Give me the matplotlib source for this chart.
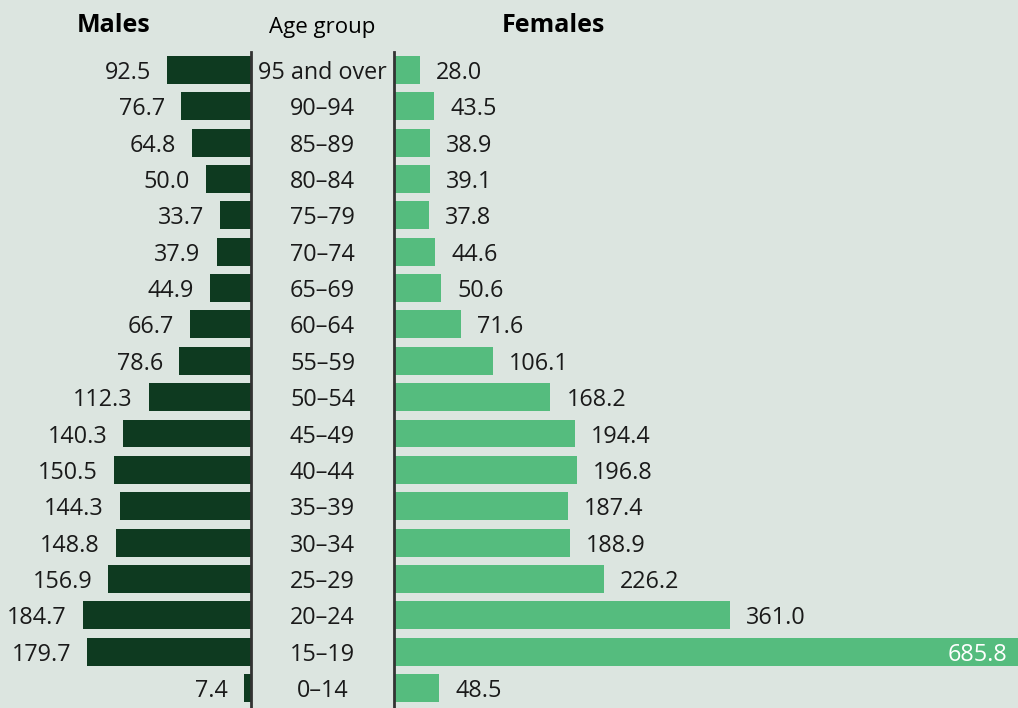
import matplotlib
matplotlib.use("Agg")
import matplotlib.pyplot as plt

plt.rcParams['font.family'] = ['Open Sans', 'DejaVu Sans']

ages = ["95 and over", "90–94", "85–89", "80–84", "75–79", "70–74", "65–69",
        "60–64", "55–59", "50–54", "45–49", "40–44", "35–39", "30–34",
        "25–29", "20–24", "15–19", "0–14"]
males = [92.5, 76.7, 64.8, 50.0, 33.7, 37.9, 44.9, 66.7, 78.6, 112.3,
         140.3, 150.5, 144.3, 148.8, 156.9, 184.7, 179.7, 7.4]
females = [28.0, 43.5, 38.9, 39.1, 37.8, 44.6, 50.6, 71.6, 106.1, 168.2,
           194.4, 196.8, 187.4, 188.9, 226.2, 361.0, 685.8, 48.5]

BG = "#dce5e0"
DARK = "#0e3a20"
LIGHT = "#55bc7e"
TXT = "#1a1a1a"
AXC = "#333333"

W, H = 1018, 708
fig = plt.figure(figsize=(W / 100, H / 100), dpi=100, facecolor=BG)

top_px = 52
row0 = 70
step = 36.35
n = len(ages)
ylo = -(row0 - top_px) / step
yhi = (n - 1) + (H - (row0 + step * (n - 1))) / step
ax_h = (H - top_px) / H

def px(x):
    return x / W

axL = fig.add_axes([0, 0, px(251), ax_h])
axM = fig.add_axes([px(251), 0, px(394 - 251), ax_h])
axR = fig.add_axes([px(394), 0, px(W - 394), ax_h])

for a in (axL, axM, axR):
    a.set_facecolor("none")
    a.set_ylim(yhi, ylo)
    a.set_xticks([])
    a.set_yticks([])
    for s in a.spines.values():
        s.set_visible(False)

y = list(range(n))
bh = 0.77
FS = 16.8
DY = -3

# Males
axL.set_xlim(251 / 0.91, 0)
axL.barh(y, males, height=bh, color=DARK)
axL.spines['right'].set_visible(True)
axL.spines['right'].set_color(AXC)
axL.spines['right'].set_linewidth(2)
for yi, v in zip(y, males):
    axL.annotate(f"{v:.1f}", (v, yi), xytext=(-16, DY), textcoords="offset pixels",
                 ha="right", va="center", fontsize=FS, color=TXT)

# Females
xmaxR = (W - 394) / 0.93
axR.set_xlim(0, xmaxR)
axR.barh(y, females, height=bh, color=LIGHT)
axR.spines['left'].set_visible(True)
axR.spines['left'].set_color(AXC)
axR.spines['left'].set_linewidth(2)
for yi, v in zip(y, females):
    if v > xmaxR:
        axR.annotate(f"{v:.1f}", (xmaxR, yi), xytext=(-11, DY), textcoords="offset pixels",
                     ha="right", va="center", fontsize=FS, color="white")
    else:
        axR.annotate(f"{v:.1f}", (v, yi), xytext=(16, DY), textcoords="offset pixels",
                     ha="left", va="center", fontsize=FS, color=TXT)

# Age labels
axM.set_xlim(0, 1)
for yi, lab in zip(y, ages):
    axM.annotate(lab, (0.5, yi), xytext=(0, DY), textcoords="offset pixels",
                 ha="center", va="center", fontsize=FS, color=TXT)

# Headers
fig.text(px(114), 1 - 25 / H, "Males", ha="center", va="center",
         fontsize=18, fontweight="bold", color="black")
fig.text(px(322), 1 - 27 / H, "Age group", ha="center", va="center",
         fontsize=16, color="black")
fig.text(px(553), 1 - 25 / H, "Females", ha="center", va="center",
         fontsize=18, fontweight="bold", color="black")

fig.savefig("out.png", dpi=100, facecolor=BG)
